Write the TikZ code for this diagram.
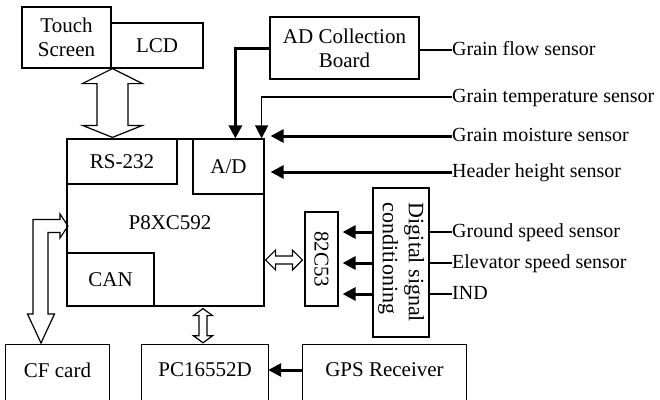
\documentclass[tikz,border=0pt]{standalone}
\usepackage{fontspec}
\setmainfont{Liberation Serif}
\usetikzlibrary{arrows.meta,calc}
\begin{document}
\begin{tikzpicture}[x=1pt,y=-1pt,
  every node/.style={font=\fontsize{21}{24}\selectfont, inner sep=0pt},
  box/.style={draw, line width=1.2pt},
  thinline/.style={line width=1.2pt},
  thickarrow/.style={line width=3pt, -{Triangle[length=13pt,width=13pt]}},
  thinarrow/.style={line width=1.2pt, -{Triangle[length=13pt,width=13pt]}},
  hollow/.style={draw, line width=1.2pt, line join=miter},
  sensor/.style={anchor=west, text height=14pt, text depth=4pt, font=\fontsize{20}{24}\selectfont}]
\useasboundingbox (0,0) rectangle (660,399);
\clip (0,0) rectangle (660,399);

% boxes
\node[box, minimum width=89pt, minimum height=61pt, align=center] (touch) at (66.5,37.5) {Touch\\Screen};
\node[box, minimum width=92pt, minimum height=45pt] (lcd) at (157,45.5) {LCD};
\node[box, minimum width=197pt, minimum height=167pt] (mcu) at (165.5,222.5) {};
\node (mcul) at (170,223) {P8XC592};
\node[box, minimum width=110pt, minimum height=45pt] (rs) at (122,161.5) {RS-232};
\node[box, minimum width=71pt, minimum height=55pt] (ad) at (228.5,166.5) {A/D};
\node[box, minimum width=87pt, minimum height=53pt] (can) at (110.5,279.5) {CAN};
\node[box, minimum width=149pt, minimum height=62pt, align=center] (adb) at (344.5,48) {AD Collection\\Board};
\node[box, minimum width=33pt, minimum height=94pt] (c53) at (321.5,259) {\rotatebox{-90}{\fontsize{21}{24}\selectfont 82C53}};
\node[box, minimum width=56pt, minimum height=149pt] (dsc) at (401,262.5)
  {\rotatebox{-90}{\fontsize{22}{26}\selectfont\begin{tabular}{@{}l@{}}Digital signal\\conditioning\end{tabular}}};

% bottom boxes (cut by the lower edge)
\node[minimum width=103pt, minimum height=50pt] (cf) at (57.5,370) {CF card};
\node[minimum width=126pt, minimum height=50pt] (pc) at (205,370) {PC16552D};
\node[minimum width=163pt, minimum height=50pt] (gps) at (384.5,370) {GPS Receiver};
\foreach \b in {cf,pc,gps}{
  \draw[thinline] ($(\b.south west)+(0,30)$) -- (\b.north west) -- (\b.north east) -- ($(\b.south east)+(0,30)$);
}

% sensor labels
\node[sensor] (flow) at (452,50) {Grain flow sensor};
\node[sensor] (temp) at (452,97) {Grain temperature sensor};
\node[sensor] (moist) at (452,136) {Grain moisture sensor};
\node[sensor] (header) at (452,172) {Header height sensor};
\node[sensor] (ground) at (452,232) {Ground speed sensor};
\node[sensor] (elev) at (452,263) {Elevator speed sensor};
\node[sensor] (ind) at (452,294) {IND};

% connectors
\draw[thinline] (flow.west) -- (flow.west -| adb.east);
\draw[thickarrow] (adb.west) -| ($(ad.north west)+(43,0)$);
\draw[thinarrow] (temp.west) -| ($(ad.north east)+(-3,0)$);
\draw[thickarrow, shorten >=6pt] (moist.west) -- (moist.west -| mcu.east);
\draw[thickarrow, shorten >=6pt] (header.west) -- (header.west -| mcu.east);
\foreach \s in {ground,elev,ind}{
  \draw[thinline] (\s.west) -- (\s.west -| dsc.east);
  \draw[thickarrow, shorten >=4pt] (\s.west -| dsc.west) -- (\s.west -| c53.east);
}
\draw[thickarrow] (gps.west) -- (pc.east);

% hollow arrows
\coordinate (aTop) at ($(lcd.south west)+(2,0)$);
\coordinate (aBot) at ($(lcd.south west |- mcu.north)+(2,-1)$);
\draw[hollow] (aTop) -- ++(30,15) -- ++(-14.5,0) -- ($(aBot)+(15.5,-12)$) -- ++(14.5,0) -- (aBot)
  -- ++(-30,-12) -- ++(14.5,0) -- ($(aTop)+(-15.5,15)$) -- ++(-14.5,0) -- cycle;

\coordinate (bL) at ($(mcu.east |- c53.center)+(1,1)$);
\coordinate (bR) at ($(c53.west)+(-2,1)$);
\draw[hollow] (bL) -- ++(10,-10) -- ++(0,6) -- ($(bR)+(-10,-4)$) -- ++(0,-6) -- (bR)
  -- ++(-10,10) -- ++(0,-6) -- ($(bL)+(10,4)$) -- ++(0,6) -- cycle;

\coordinate (cT) at ($(pc.north |- mcu.south)+(-2,2)$);
\coordinate (cB) at ($(pc.north)+(-2,-2)$);
\draw[hollow] (cT) -- ++(9.5,7) -- ++(-5.5,0) -- ($(cB)+(4,-7)$) -- ++(5.5,0) -- (cB)
  -- ++(-9.5,-7) -- ++(5.5,0) -- ($(cT)+(-4,7)$) -- ++(-5.5,0) -- cycle;

\draw[hollow] (68,226) -- (60,214) -- (60,219.5) -- (33,219.5) -- (33,314) -- (27.5,314)
  -- (41,343) -- (54.5,314) -- (48,314) -- (48,232.5) -- (60,232.5) -- (60,238) -- cycle;
\end{tikzpicture}
\end{document}
